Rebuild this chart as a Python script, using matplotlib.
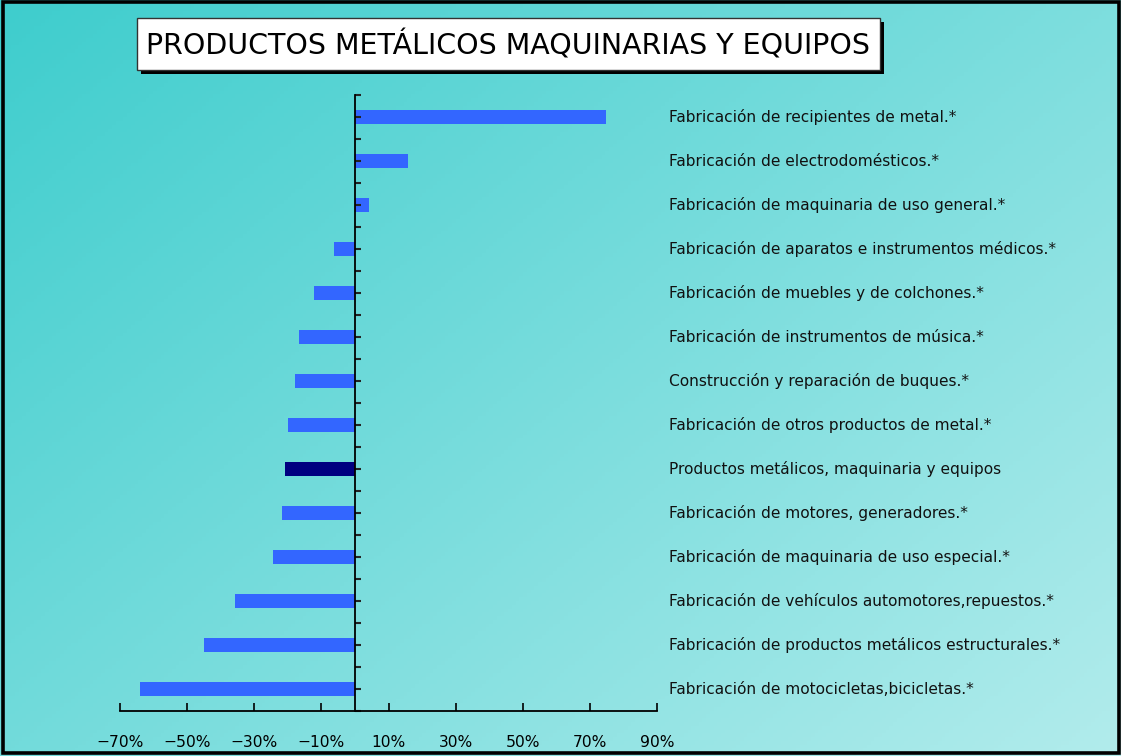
import numpy as np
import matplotlib.pyplot as plt
from matplotlib.patches import Rectangle
from matplotlib.transforms import blended_transform_factory

categorias = [
    "Fabricación de recipientes de metal.*",
    "Fabricación de electrodomésticos.*",
    "Fabricación de maquinaria de uso general.*",
    "Fabricación de aparatos e instrumentos médicos.*",
    "Fabricación de muebles y de colchones.*",
    "Fabricación de instrumentos de música.*",
    "Construcción y reparación de buques.*",
    "Fabricación de otros productos de metal.*",
    "Productos metálicos, maquinaria y equipos",
    "Fabricación de motores, generadores.*",
    "Fabricación de maquinaria de uso especial.*",
    "Fabricación de vehículos automotores,repuestos.*",
    "Fabricación de productos metálicos estructurales.*",
    "Fabricación de motocicletas,bicicletas.*",
]
variacion = [74.8, 15.8, 4.2, -6.3, -12.2, -16.7, -17.9, -20.0, -20.9, -21.8, -24.4, -35.8, -45.0, -64.0]
total = "Productos metálicos, maquinaria y equipos"
ticks_x = [-70, -50, -30, -10, 10, 30, 50, 70, 90]
titulo = "PRODUCTOS METÁLICOS MAQUINARIAS Y EQUIPOS"

W, H = 1121, 756
fig = plt.figure(figsize=(W / 100, H / 100), dpi=100)

# fondo degradado
fondo = fig.add_axes([0, 0, 1, 1], zorder=-10)
xx, yy = np.meshgrid(np.linspace(0, 1, 300), np.linspace(0, 1, 200))
t = (xx * 0.55 + yy * 0.45)
c0 = np.array([62, 205, 205]) / 255
c1 = np.array([178, 236, 236]) / 255
img = c0[None, None, :] * (1 - t[..., None]) + c1[None, None, :] * t[..., None]
fondo.imshow(img, extent=[0, 1, 0, 1], aspect="auto", origin="upper")
fondo.set_xlim(0, 1)
fondo.set_ylim(0, 1)
fondo.axis("off")
fig.patches.append(Rectangle((2.5 / W, 3.5 / H), 1 - 5 / W, 1 - 5.5 / H, transform=fig.transFigure,
                             fill=False, edgecolor="black", linewidth=2.6))

ax = fig.add_axes([120 / W, (H - 711) / H, 537 / W, 616 / H])
ax.patch.set_alpha(0)

y = np.arange(len(categorias))[::-1]
colores = ["#000080" if c == total else "#3366FF" for c in categorias]
ax.barh(y, variacion, height=0.32, color=colores)

ax.set_xlim(-70, 90)
ax.set_ylim(-0.5, len(categorias) - 0.5)
ax.set_xticks(ticks_x)
ax.set_xticklabels([f"{v}%".replace("-", "\u2212") for v in ticks_x], fontsize=11.2)
ax.tick_params(axis="x", direction="in", length=6, width=1.2, pad=17)

ax.set_yticks(y)
ax.set_yticks(np.arange(len(categorias) + 1) - 0.5, minor=True)
ax.set_yticklabels([])
ax.tick_params(axis="y", which="both", direction="in", length=4, width=1.5, color="#222222")

ax.spines["left"].set_position(("data", 0))
ax.spines["left"].set_linewidth(1.3)
ax.spines["bottom"].set_linewidth(1.3)
ax.spines["top"].set_visible(False)
ax.spines["right"].set_visible(False)

trans = blended_transform_factory(ax.transAxes, ax.transData)
for yi, cat in zip(y, categorias):
    ax.text(1.0225, yi, cat, transform=trans, va="center", ha="left", fontsize=11.1, color="#111111")

# título con sombra
fig.patches.append(Rectangle((141 / W, (H - 74) / H), 743 / W, 52 / H, transform=fig.transFigure,
                             facecolor="black", edgecolor="none"))
fig.patches.append(Rectangle((137 / W, (H - 70) / H), 743 / W, 52 / H, transform=fig.transFigure,
                             facecolor="white", edgecolor="#333333", linewidth=1))
fig.text(508 / W, (H - 45) / H, titulo, ha="center", va="center", fontsize=20.5, color="black")

fig.savefig("out.png", dpi=100)
